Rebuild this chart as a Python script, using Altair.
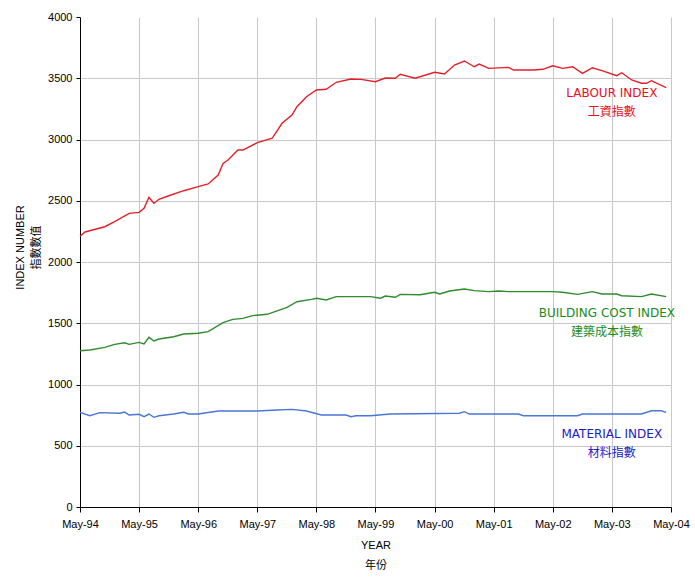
import altair as alt
import pandas as pd

# ---------------- data ----------------
labour_dates = ["1994-05", "1994-06", "1994-10", "1994-12", "1995-03", "1995-05", "1995-06", "1995-07",
                "1995-08", "1995-09", "1995-11", "1996-02", "1996-05", "1996-07", "1996-09", "1996-10",
                "1996-11", "1997-01", "1997-02", "1997-05", "1997-08", "1997-10", "1997-12", "1998-01",
                "1998-03", "1998-05", "1998-07", "1998-09", "1998-12", "1999-02", "1999-05", "1999-07",
                "1999-09", "1999-10", "2000-01", "2000-05", "2000-07", "2000-09", "2000-11", "2001-01",
                "2001-02", "2001-04", "2001-08", "2001-09", "2002-01", "2002-03", "2002-05", "2002-07",
                "2002-09", "2002-11", "2003-01", "2003-03", "2003-06", "2003-07", "2003-09", "2003-11",
                "2003-12", "2004-01", "2004-04"]
labour_values = [2210, 2245, 2288, 2329, 2397, 2405, 2438, 2528,
                 2479, 2512, 2541, 2582, 2615, 2637, 2710, 2805,
                 2833, 2914, 2914, 2974, 3010, 3132, 3200, 3268,
                 3349, 3404, 3410, 3467, 3494, 3491, 3472, 3502,
                 3500, 3532, 3500, 3549, 3535, 3608, 3641, 3594,
                 3616, 3581, 3589, 3567, 3567, 3573, 3602, 3581,
                 3594, 3540, 3586, 3562, 3521, 3545, 3486, 3459,
                 3459, 3480, 3423]

building_dates = ["1994-05", "1994-07", "1994-10", "1994-12", "1995-02", "1995-03", "1995-05", "1995-06",
                  "1995-07", "1995-08", "1995-09", "1995-12", "1996-02", "1996-05", "1996-07", "1996-10",
                  "1996-12", "1997-02", "1997-04", "1997-07", "1997-11", "1998-01", "1998-04", "1998-05",
                  "1998-07", "1998-09", "1999-04", "1999-06", "1999-07", "1999-09", "1999-10", "2000-02",
                  "2000-05", "2000-06", "2000-08", "2000-11", "2001-01", "2001-04", "2001-06", "2001-08",
                  "2002-05", "2002-07", "2002-10", "2003-01", "2003-03", "2003-06", "2003-07", "2003-11",
                  "2004-01", "2004-04"]
building_values = [1276, 1282, 1303, 1328, 1341, 1328, 1344, 1331,
                   1385, 1355, 1371, 1390, 1412, 1418, 1431, 1505,
                   1532, 1540, 1562, 1573, 1630, 1676, 1695, 1704,
                   1690, 1717, 1717, 1704, 1722, 1712, 1736, 1733,
                   1753, 1739, 1763, 1780, 1766, 1758, 1763, 1758,
                   1758, 1753, 1736, 1758, 1739, 1739, 1725, 1717,
                   1739, 1717]

material_dates = ["1994-05", "1994-07", "1994-09", "1995-01", "1995-02", "1995-03", "1995-05", "1995-06",
                  "1995-07", "1995-08", "1995-09", "1995-12", "1996-02", "1996-03", "1996-05", "1996-09",
                  "1997-05", "1997-09", "1997-12", "1998-03", "1998-06", "1998-11", "1998-12", "1999-01",
                  "1999-04", "1999-08", "2000-10", "2000-11", "2000-12", "2001-10", "2001-11", "2002-10",
                  "2002-11", "2003-11", "2004-01", "2004-03", "2004-04"]
material_values = [773, 745, 770, 765, 775, 751, 757, 737,
                   759, 732, 745, 759, 773, 759, 759, 784,
                   784, 792, 797, 784, 751, 751, 737, 745,
                   745, 759, 765, 778, 759, 759, 745, 745,
                   759, 759, 786, 786, 773]

series_names = ["LABOUR", "BUILDING", "MATERIAL"]
line_colors = ["#e3202a", "#2e8b2e", "#4a76d6"]
label_colors = ["#e8101a", "#1a8a1a", "#2020c8"]
label_line1 = ["LABOUR INDEX", "BUILDING COST INDEX", "MATERIAL INDEX"]
label_line2 = ["工資指數", "建築成本指數", "材料指數"]
label_dates = ["2003-05", "2003-04", "2003-05"]
label_values = [3380, 1585, 600]

x_ticks = [1994 + i for i in range(11)]
y_ticks = [0, 500, 1000, 1500, 2000, 2500, 3000, 3500, 4000]

# ---------------- build tables ----------------
rows = []
for name, dates, vals in zip(series_names,
                             [labour_dates, building_dates, material_dates],
                             [labour_values, building_values, material_values]):
    for d, v in zip(dates, vals):
        rows.append({"series": name, "date": d + "-01T00:00:00", "value": v})
df = pd.DataFrame(rows)

lab = pd.DataFrame({
    "series": series_names,
    "date": [d + "-01T00:00:00" for d in label_dates],
    "value": label_values,
    "text": [[a, b] for a, b in zip(label_line1, label_line2)],
})

FONT = "Liberation Sans"
MIX = "Liberation Sans, Noto Sans CJK TC"
LABFONT = "DejaVu Sans, Noto Sans CJK TC"

x_scale = alt.Scale(domain=[alt.DateTime(year=1994, month=5, date=1),
                            alt.DateTime(year=2004, month=5, date=1)])
y_scale = alt.Scale(domain=[0, 4000], nice=False)
color_scale = alt.Scale(domain=series_names, range=line_colors)

x_axis = alt.Axis(
    values=[alt.DateTime(year=y, month=5, date=1) for y in x_ticks],
    format="%b-%y", labelFont=FONT, labelFontSize=11, labelColor="#000",
    labelPadding=6, tickSize=5, tickColor="#000", domainColor="#000",
    gridColor="#c8c8c8", labelOverlap=False, labelFlush=False,
    title=["YEAR", "年份"], titleFont=MIX, titleFontSize=11, titleFontWeight="normal",
    titleColor="#000", titlePadding=10, titleLineHeight=20,
)
y_axis = alt.Axis(
    values=y_ticks, format="d", labelFont=FONT, labelFontSize=11, labelColor="#000",
    tickSize=4, tickColor="#000", domainColor="#000", labelPadding=4,
    gridColor="#c8c8c8",
    gridOpacity={"condition": {"test": "datum.value == 4000", "value": 0}, "value": 1},
    title=["INDEX NUMBER", "指數數值"], titleFont=MIX, titleFontSize=11,
    titleFontWeight="normal", titleColor="#000", titlePadding=6, titleY=230,
    titleLineHeight=16,
)

lines = alt.Chart(df).mark_line(strokeWidth=1.4, interpolate="linear").encode(
    x=alt.X("date:T", scale=x_scale, axis=x_axis),
    y=alt.Y("value:Q", scale=y_scale, axis=y_axis),
    color=alt.Color("series:N", scale=color_scale, legend=None),
    detail="series:N",
)

labels = alt.Chart(lab).mark_text(font=LABFONT, fontSize=12, align="center",
                                  baseline="middle", lineHeight=19).encode(
    x=alt.X("date:T", scale=x_scale),
    y=alt.Y("value:Q", scale=y_scale),
    text="text",
    color=alt.Color("series:N", scale=alt.Scale(domain=series_names, range=label_colors),
                    legend=None),
)

chart = alt.layer(lines, labels).resolve_scale(color="independent").properties(
    width=591, height=490,
    autosize=alt.AutoSizeParams(type="none"),
    padding={"left": 80, "top": 17, "right": 24, "bottom": 70},
    background="white",
).configure_view(stroke=None)

chart.save("out.html", embed_options={"renderer": "svg", "actions": False})
